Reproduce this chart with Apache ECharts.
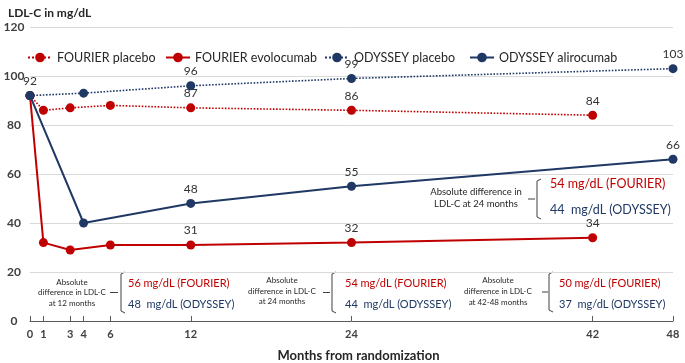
<!DOCTYPE html>
<html><head><meta charset="utf-8">
<script src="https://cdn.jsdelivr.net/npm/echarts@6/dist/echarts.min.js"></script>
<style>html,body{margin:0;padding:0;background:#fff}#c{width:685px;height:363px}</style>
</head><body><div id="c"></div>
<script>
// ---- data ----
const seriesNames = ['FOURIER placebo', 'FOURIER evolocumab', 'ODYSSEY placebo', 'ODYSSEY alirocumab'];
const fourierMonths = [0, 1, 3, 6, 12, 24, 42];
const fourierPlacebo = [92, 86, 87, 88, 87, 86, 84];
const fourierEvolocumab = [92, 32, 29, 31, 31, 32, 34];
const odysseyMonths = [0, 4, 12, 24, 48];
const odysseyPlacebo = [92, 93, 96, 99, 103];
const odysseyAlirocumab = [92, 40, 48, 55, 66];
const labeledMonths = [[12, 24, 42], [12, 24, 42], [0, 12, 24, 48], [12, 24, 48]];
const xTicks = [0, 1, 3, 4, 6, 12, 24, 42, 48];
const yMin = 0, yMax = 120, yStep = 20;

const RED = '#C00000', BLUE = '#1F3864', TXT = '#333333';
const FONT = 'Lato';

function pairs(ms, vs) { return ms.map((m, i) => [m, vs[i]]); }
const seriesData = [
  pairs(fourierMonths, fourierPlacebo),
  pairs(fourierMonths, fourierEvolocumab),
  pairs(odysseyMonths, odysseyPlacebo),
  pairs(odysseyMonths, odysseyAlirocumab)
];
const colors = [RED, RED, BLUE, BLUE];
const dashed = [true, false, true, false];

const series = seriesData.map((d, si) => ({
  name: seriesNames[si],
  type: 'line',
  data: d.map(p => ({
    value: p,
    label: { show: labeledMonths[si].indexOf(p[0]) >= 0 }
  })),
  symbol: 'circle',
  symbolSize: 9,
  color: colors[si],
  lineStyle: { width: dashed[si] ? 1.6 : 2, type: dashed[si] ? 'dotted' : 'solid', color: colors[si] },
  itemStyle: { color: colors[si] },
  label: { position: 'top', distance: 4, color: TXT, fontFamily: FONT, fontSize: 12 },
  emphasis: { disabled: true },
  animation: false,
  z: 2 + si
}));

const legendLefts = [22, 160, 319, 464];
const legends = seriesNames.map((n, i) => ({
  data: [n], left: legendLefts[i], top: 46,
  itemWidth: 24, itemHeight: 12,
  textStyle: { fontFamily: FONT, fontSize: 12.5, color: '#262626' },
  selectedMode: false
}));

function smallNote(cx, ys, lines, size) {
  return lines.map((t, i) => ({
    type: 'text', x: cx, y: ys[i],
    style: { text: t, fill: '#262626', font: (size) + 'px ' + FONT, align: 'center', verticalAlign: 'middle' }
  }));
}
function bracket(dashX1, dashX2, bx, top, bottom, tick) {
  const mid = (top + bottom) / 2;
  return [
    { type: 'line', shape: { x1: dashX1, y1: mid, x2: dashX2, y2: mid }, style: { stroke: '#404040', lineWidth: 1 } },
    { type: 'polyline', shape: { points: [[bx + tick, top], [bx, top + 2], [bx, bottom - 2], [bx + tick, bottom]] }, style: { stroke: '#404040', lineWidth: 1, fill: null } }
  ];
}
function pairText(x, y1, y2, t1, t2, size) {
  return [
    { type: 'text', x: x, y: y1, style: { text: t1, fill: RED, font: size + 'px ' + FONT, verticalAlign: 'middle' } },
    { type: 'text', x: x, y: y2, style: { text: t2, fill: BLUE, font: size + 'px ' + FONT, verticalAlign: 'middle' } }
  ];
}

const graphics = [].concat(
  smallNote(72, [282, 292, 303], ['Absolute', 'difference in LDL-C', 'at 12 months'], 8),
  bracket(110, 118, 121, 272, 313, 4),
  pairText(128, 283, 304, '56 mg/dL (FOURIER)', '48  mg/dL (ODYSSEY)', 11),
  smallNote(282, [280, 291, 301], ['Absolute', 'difference in LDL-C', 'at 24 months'], 8),
  bracket(323, 330, 332, 272, 313, 4),
  pairText(345, 283, 304, '54 mg/dL (FOURIER)', '44  mg/dL (ODYSSEY)', 11),
  smallNote(498, [280, 291, 302], ['Absolute', 'difference in LDL-C', 'at 42-48 months'], 8),
  bracket(542, 548, 549, 272, 312, 4),
  pairText(559, 283, 304, '50 mg/dL (FOURIER)', '37  mg/dL (ODYSSEY)', 11),
  smallNote(476, [192, 204], ['Absolute difference in', 'LDL-C at 24 months'], 9.5),
  bracket(528, 535, 537, 179, 219, 4),
  pairText(550, 184, 210, '54 mg/dL (FOURIER)', '44  mg/dL (ODYSSEY)', 12.5)
);

const chart = echarts.init(document.getElementById('c'), null, { renderer: 'canvas' });
chart.setOption({
  backgroundColor: '#fff',
  animation: false,
  title: { text: 'LDL-C in mg/dL', left: 3, top: 2, textStyle: { fontFamily: FONT, fontSize: 12, fontWeight: 'bold', color: '#262626' } },
  legend: legends,
  grid: { left: 30, right: 12, top: 27, bottom: 42, containLabel: false, outerBoundsMode: 'none' },
  xAxis: {
    type: 'value', min: 0, max: 48, interval: 1,
    name: 'Months from randomization', nameLocation: 'middle', nameGap: 28,
    nameTextStyle: { fontFamily: FONT, fontSize: 13, fontWeight: 'bold', color: '#262626', padding: [0, 0, 0, 14] },
    axisLine: { show: true, lineStyle: { color: '#595959', width: 1 } },
    axisTick: { show: true, inside: true, length: 5, customValues: xTicks, lineStyle: { color: '#595959' } },
    axisLabel: { customValues: xTicks, fontFamily: FONT, fontSize: 11, fontWeight: 'bold', color: '#404040', margin: 8 },
    splitLine: { show: false }
  },
  yAxis: {
    type: 'value', min: yMin, max: yMax, interval: yStep,
    axisLine: { show: false }, axisTick: { show: false },
    axisLabel: { fontFamily: FONT, fontSize: 12, fontWeight: 'bold', color: '#404040', align: 'center', margin: 16 },
    splitLine: { lineStyle: { color: '#D9D9D9', width: 1 } }
  },
  series: series,
  graphic: graphics
});
</script></body></html>
